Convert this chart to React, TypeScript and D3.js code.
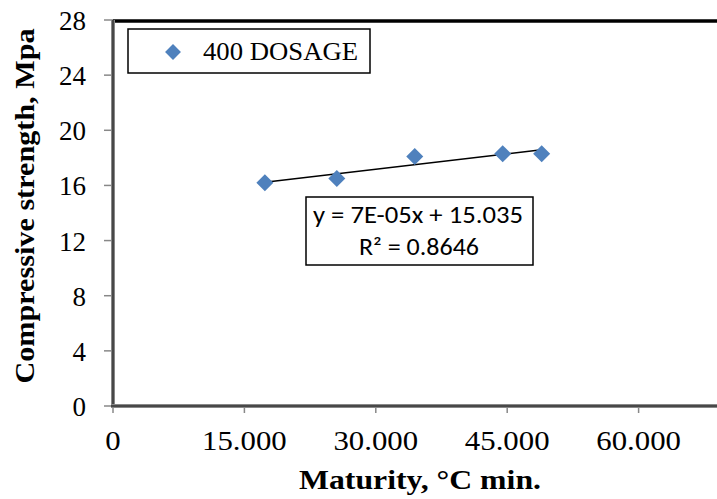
import React from "react";
import * as d3 from "d3";

const maturity = [17338, 25551, 34448, 44487, 48935];
const strength = [16.2, 16.5, 18.1, 18.3, 18.3];
const xTicks = [0, 15000, 30000, 45000, 60000];
const xTickLabels = ["0", "15.000", "30.000", "45.000", "60.000"];
const yTicks = [0, 4, 8, 12, 16, 20, 24, 28];
const seriesName = "400 DOSAGE";
const equationLines = ["y = 7E-05x + 15.035", "R² = 0.8646"];

const W = 717;
const H = 499;
const serif = "'Liberation Serif', 'Times New Roman', serif";
const sans = "Carlito, Lato, 'Liberation Sans', sans-serif";

export default function App() {
  const x = d3.scaleLinear().domain([0, 75000]).range([113, 770]);
  const y = d3.scaleLinear().domain([0, 28]).range([406, 20]);

  const mx = d3.mean(maturity) as number;
  const my = d3.mean(strength) as number;
  let sxy = 0, sxx = 0;
  maturity.forEach((v, i) => {
    sxy += (v - mx) * (strength[i] - my);
    sxx += (v - mx) * (v - mx);
  });
  const slope = sxy / sxx;
  const icpt = my - slope * mx;
  const xMin = d3.min(maturity) as number;
  const xMax = d3.max(maturity) as number;
  const line = d3.line<number>().x((d) => x(d)).y((d) => y(icpt + slope * d));

  const diamond = d3.symbol().type(d3.symbolDiamond2).size(185)() as string;

  return (
    <div style={{ position: "fixed", left: 0, top: 0 }}>
      <svg width={W} height={H} style={{ display: "block", background: "#fff" }}>
        {/* top border */}
        <line x1={113} x2={W} y1={21} y2={21} stroke="#000" strokeWidth={3.5} />
        {/* y ticks */}
        {yTicks.map((t) => (
          <g key={"yt" + t}>
            <line x1={104} x2={113} y1={y(t)} y2={y(t)} stroke="#888" strokeWidth={1.5} />
            <text x={86} y={y(t) + 10} textAnchor="end" fontFamily={serif} fontSize={27} fill="#000">
              {t}
            </text>
          </g>
        ))}
        {/* x ticks */}
        {xTicks.map((t, i) => (
          <g key={"xt" + t}>
            <line x1={x(t)} x2={x(t)} y1={406} y2={413} stroke="#888" strokeWidth={1.5} />
            <text
              transform={`translate(${x(t)},450) scale(1.1,1)`}
              textAnchor="middle"
              fontFamily={serif}
              fontSize={28}
              fill="#000"
            >
              {xTickLabels[i]}
            </text>
          </g>
        ))}
        {/* axes */}
        <line x1={113} x2={113} y1={20} y2={407} stroke="#888" strokeWidth={4} />
        <line x1={113} x2={113} y1={20} y2={407} stroke="#333" strokeWidth={1.5} />
        <line x1={111} x2={W} y1={406} y2={406} stroke="#888" strokeWidth={4} />
        <line x1={111} x2={W} y1={406} y2={406} stroke="#333" strokeWidth={1.5} />

        {/* trendline */}
        <path d={line([xMin, xMax]) as string} stroke="#000" strokeWidth={1.5} fill="none" />
        {/* points */}
        {maturity.map((v, i) => (
          <path key={"p" + i} d={diamond} transform={`translate(${x(v)},${y(strength[i])})`} fill="#4F81BD" />
        ))}

        {/* legend */}
        <rect x={128} y={29} width={242} height={44} fill="#fff" stroke="#000" strokeWidth={1.5} />
        <path d={d3.symbol().type(d3.symbolDiamond2).size(160)() as string} transform="translate(173,52)" fill="#4F81BD" />
        <text x={203} y={60} fontFamily={serif} fontSize={26} fill="#000" textLength={155} lengthAdjust="spacingAndGlyphs">
          {seriesName}
        </text>

        {/* equation */}
        <rect x={306} y={197} width={227} height={68} fill="#fff" stroke="#000" strokeWidth={1.5} />
        <text x={418} y={223} textAnchor="middle" fontFamily={sans} fontSize={24} fill="#000" textLength={210} lengthAdjust="spacingAndGlyphs">
          {equationLines[0]}
        </text>
        <text x={419} y={255} textAnchor="middle" fontFamily={sans} fontSize={24} fill="#000" textLength={120} lengthAdjust="spacingAndGlyphs">
          {equationLines[1]}
        </text>

        {/* titles */}
        <text x={420} y={489} textAnchor="middle" fontFamily={serif} fontWeight="bold" fontSize={27} fill="#000" textLength={242} lengthAdjust="spacingAndGlyphs">
          Maturity, °C min.
        </text>
        <text
          transform={`translate(34,206) rotate(-90)`}
          textAnchor="middle"
          fontFamily={serif}
          fontWeight="bold"
          fontSize={28}
          fill="#000"
          textLength={355}
          lengthAdjust="spacingAndGlyphs"
        >
          Compressive strength, Mpa
        </text>
      </svg>
    </div>
  );
}
